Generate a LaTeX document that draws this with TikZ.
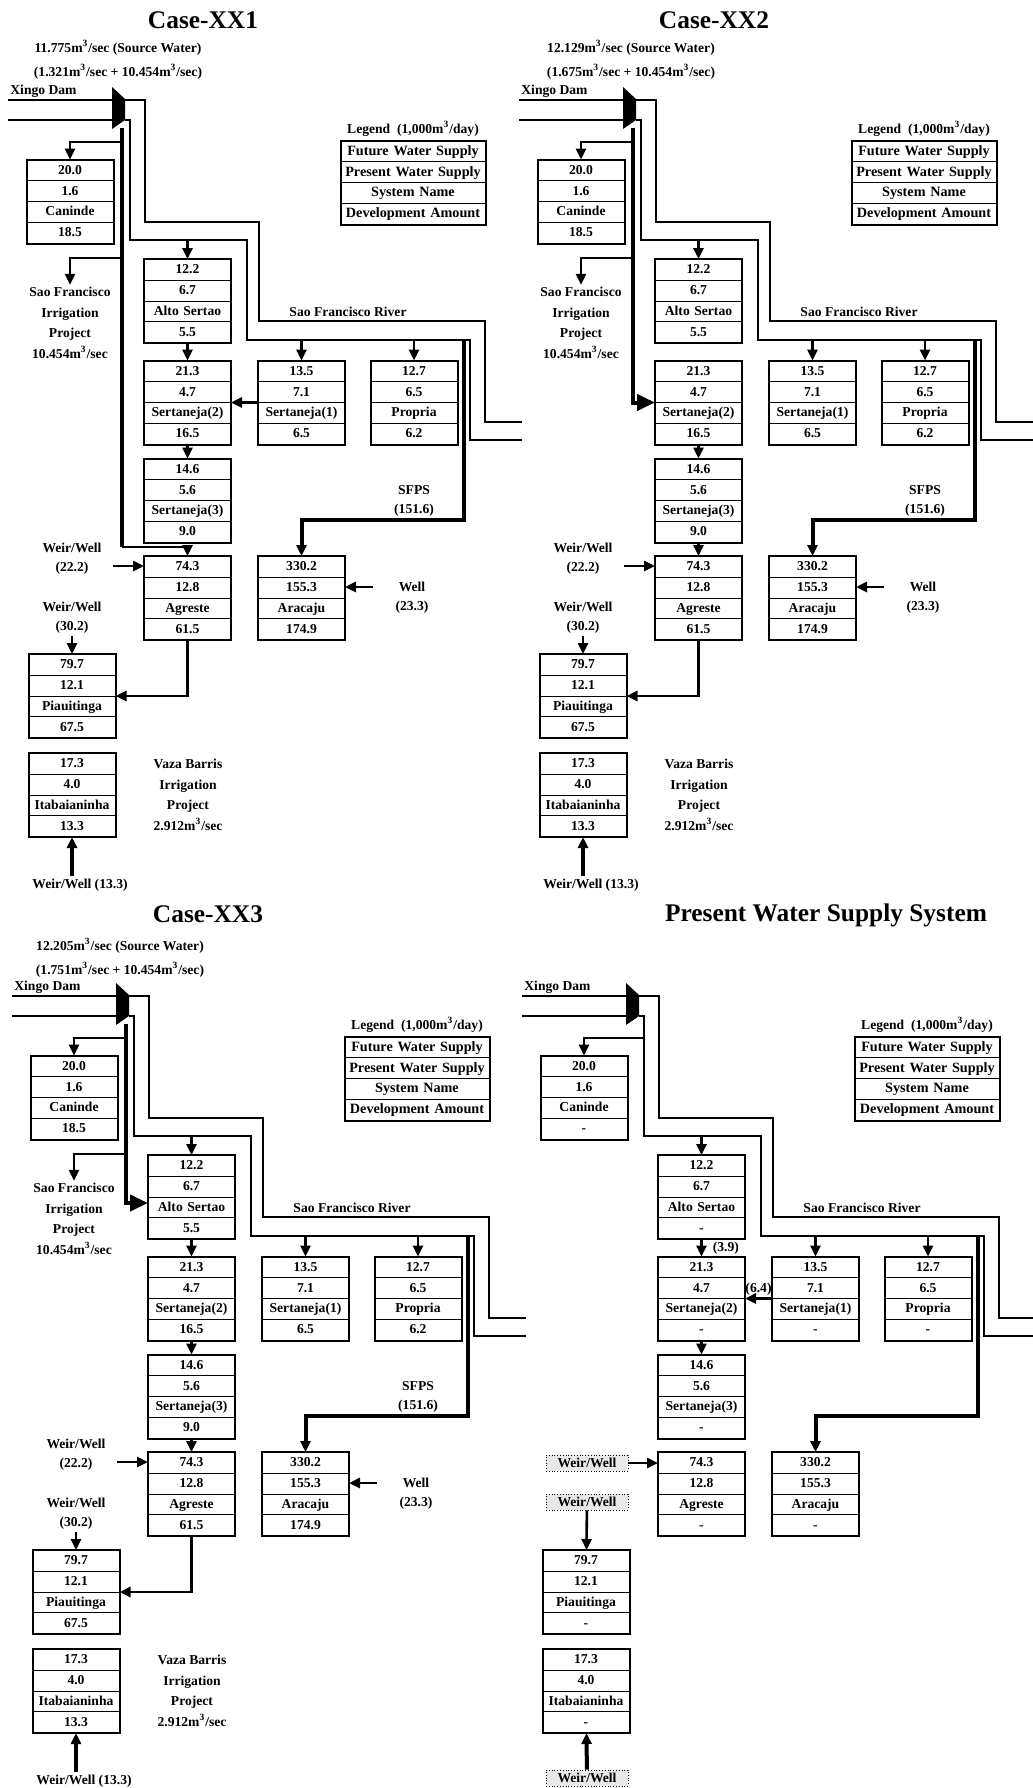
\documentclass[tikz,border=0pt]{standalone}
\usepackage{fontspec}
\setmainfont{Liberation Serif}
\usetikzlibrary{arrows.meta,shapes.multipart,positioning}

\newcommand{\rowtx}[1]{\rule[-2.9pt]{0pt}{9.875pt}#1}

\tikzset{
  wbox/.style={rectangle split,rectangle split parts=4,draw,line width=.5pt,text width=43pt,inner xsep=0pt,inner ysep=0pt,align=center,font=\fontsize{6.8}{8}\selectfont\bfseries},
  lgbox/.style={wbox,text width=72pt,font=\fontsize{7.1}{8}\selectfont\bfseries},
  lbl/.style={align=center,inner sep=1pt,font=\fontsize{6.8}{9.5}\selectfont\bfseries},
  lbl4/.style={lbl,font=\fontsize{6.8}{10.3}\selectfont\bfseries},
  srclbl/.style={lbl,font=\fontsize{6.8}{12}\selectfont\bfseries},
  ttl/.style={inner sep=1pt,font=\fontsize{12.7}{15}\selectfont\bfseries},
  river/.style={line width=.7pt},
  pipe/.style={line width=2pt},
  arr/.style={line width=1.3pt,-{Triangle[length=5.5pt,width=5pt]}},
  bighd/.style={-{Triangle[length=9pt,width=8pt]}},
  wwbox/.style={draw,densely dotted,fill=gray!18,minimum width=41pt,minimum height=8pt,inner sep=0pt,font=\fontsize{6.8}{8}\selectfont\bfseries}
}

% parts shared by all four panels: #1 prefix, #2 development amount
\newcommand{\panelbase}[2]{%
  \fill (112,87) -- (125,99) -- (125,120) -- (112,129) -- cycle;
  \draw[river] (8,100) -- (112,100) (125,100) -- (145,100) -- (145,222) -- (259,222) -- (259,321) -- (485,321) -- (485,422) -- (522,422);
  \draw[river] (8,120) -- (112,120) (125,120) -- (130,120) -- (130,240) -- (247,240) -- (247,340) -- (470,340) -- (470,440) -- (522,440);
  \node[lbl,anchor=south west] (#1-xd) at (8,100) {Xingo Dam};
  \node[lbl] (#1-rvl) at (348,312) {Sao Francisco River};
  \coordinate (#1-rv1) at (130,240);
  \coordinate (#1-rv2) at (247,340);
  \coordinate (#1-sfb) at (464,520);
  \foreach \nm/\x/\y/\ra/\rb/\rc/\rd in {can/70/201.5/20.0/1.6/Caninde/18.5,
      alto/187.5/301/12.2/6.7/Alto Sertao/5.5, s2/187.5/402.5/21.3/4.7/Sertaneja(2)/16.5,
      s1/301.5/402.5/13.5/7.1/Sertaneja(1)/6.5, pro/414/402.5/12.7/6.5/Propria/6.2,
      s3/187.5/500.5/14.6/5.6/Sertaneja(3)/9.0, agr/187.5/598/74.3/12.8/Agreste/61.5,
      ara/301.5/598/330.2/155.3/Aracaju/174.9, pia/72/696/79.7/12.1/Piauitinga/67.5,
      ita/72/795/17.3/4.0/Itabaianinha/13.3}{
    \node[wbox] (#1-\nm) at (\x,\y) {\rowtx{\ra}\nodepart{two}\rowtx{\rb}\nodepart{three}\rowtx{\rc}\nodepart{four}\rowtx{#2}};
    \draw[line width=1pt] (#1-\nm.north west) rectangle (#1-\nm.south east);
  }
  \node[lgbox] (#1-lg) at (413,182.5) {\rowtx{Future Water Supply}\nodepart{two}\rowtx{Present Water Supply}\nodepart{three}\rowtx{System Name}\nodepart{four}\rowtx{Development Amount}};
  \draw[line width=1pt] (#1-lg.north west) rectangle (#1-lg.south east);
  \node[lbl,above=1pt of #1-lg] (#1-lgt) {Legend\ \ (1,000m\textsuperscript{3}/day)};
  \draw[arr] (#1-alto.north |- #1-rv1) -- (#1-alto.north);
  \draw[arr] (#1-s1.north |- #1-rv2) -- (#1-s1.north);
  \draw[arr] (#1-pro.north |- #1-rv2) -- (#1-pro.north);
  \draw[arr] (#1-s2) -- (#1-s3);
  \draw[pipe,-{Triangle[length=5.5pt,width=5pt]}] (#1-sfb |- #1-rv2) -- (#1-sfb) -| (#1-ara.north);
}

% parts shared by the three cases
\newcommand{\caseparts}[1]{%
  \coordinate (#1-t0) at (122,128);
  \coordinate (#1-t1) at (122,142);
  \coordinate (#1-t2) at (122,258);
  \draw[arr] (#1-t1) -| (#1-can.north);
  \node[lbl4] (#1-irr) at (70,323) {Sao Francisco\\Irrigation\\Project\\10.454m\textsuperscript{3}/sec};
  \draw[arr] (#1-t2) -| (#1-irr.north);
  \node[lbl] (#1-ww1) at (72,559) {Weir/Well\\(22.2)};
  \coordinate (#1-ww1e) at (113,566);
  \draw[arr] (#1-ww1e) -- (#1-ww1e -| #1-agr.west);
  \node[lbl] (#1-ww2) at (72,618) {Weir/Well\\(30.2)};
  \draw[arr] (#1-ww2) -- (#1-pia);
  \node[lbl] (#1-wl) at (412,598) {Well\\(23.3)};
  \coordinate (#1-wle) at (373,587);
  \draw[arr] (#1-wle) -- (#1-wle -| #1-ara.east);
  \node[lbl] (#1-sfl) at (414,501) {SFPS\\(151.6)};
  \node[lbl4] (#1-vb) at (188,795) {Vaza Barris\\Irrigation\\Project\\2.912m\textsuperscript{3}/sec};
  \node[lbl] (#1-ww3) at (80,885) {Weir/Well (13.3)};
  \draw[arr,line width=2pt] (#1-ww3.north -| #1-ita.south) -- (#1-ita.south);
  \draw[arr] (#1-agr.south) |- (#1-pia.east);
}

\begin{document}
\begin{tikzpicture}[x=.5pt,y=-.5pt]
\path[use as bounding box] (0,0) rectangle (1033,1788);

% Case-XX1
\begin{scope}
  \panelbase{a}{\rd}
  \caseparts{a}
  \node[ttl] (a-tt) at (203,20) {Case-XX1};
  \node[srclbl] (a-src) at (118,60) {11.775m\textsuperscript{3}/sec (Source Water)\\(1.321m\textsuperscript{3}/sec + 10.454m\textsuperscript{3}/sec)};
  \coordinate (a-t3) at (122,547);
  \draw[pipe] (a-t0) -- (a-t3);
  \draw[arr] (a-t3) -| (a-agr.north);
  \draw[arr] (a-alto) -- (a-s2);
  \draw[arr] (a-s1.west) -- (a-s2.east);
\end{scope}

% Case-XX2
\begin{scope}[shift={(511,0)}]
  \panelbase{b}{\rd}
  \caseparts{b}
  \node[ttl] (b-tt) at (203,20) {Case-XX2};
  \node[srclbl] (b-src) at (120,60) {12.129m\textsuperscript{3}/sec (Source Water)\\(1.675m\textsuperscript{3}/sec + 10.454m\textsuperscript{3}/sec)};
  \draw[pipe,bighd] (b-t0) |- (b-s2.west);
  \draw[arr] (b-s3) -- (b-agr);
\end{scope}

% Case-XX3
\begin{scope}[shift={(4,896)}]
  \panelbase{c}{\rd}
  \caseparts{c}
  \node[ttl] (c-tt) at (204,18) {Case-XX3};
  \node[srclbl] (c-src) at (116,62) {12.205m\textsuperscript{3}/sec (Source Water)\\(1.751m\textsuperscript{3}/sec + 10.454m\textsuperscript{3}/sec)};
  \draw[pipe,bighd] (c-t0) |- ([yshift=-3pt]c-alto.west);
  \draw[arr] (c-alto) -- (c-s2);
  \draw[arr] (c-s3) -- (c-agr);
\end{scope}

% Present Water Supply System
\begin{scope}[shift={(514,896)}]
  \panelbase{d}{-}
  \node[ttl] (d-tt) at (312,19) {Present Water Supply System};
  \coordinate (d-t1) at (130,142);
  \draw[arr] (d-t1) -| (d-can.north);
  \draw[arr] (d-alto) -- node[lbl,right=4pt] (d-q1) {(3.9)} (d-s2);
  \draw[arr] (d-s1.west) -- node[lbl,above] (d-q2) {(6.4)} (d-s2.east);
  \node[wwbox] (d-w1) at (73,567) {Weir/Well};
  \draw[arr] (d-w1) -- (d-w1 -| d-agr.west);
  \node[wwbox] (d-w2) at (73,606) {Weir/Well};
  \draw[arr] (d-w2) -- (d-pia);
  \node[wwbox] (d-w3) at (73,882) {Weir/Well};
  \draw[arr,line width=2pt] (d-w3) -- (d-ita);
\end{scope}
\end{tikzpicture}
\end{document}
